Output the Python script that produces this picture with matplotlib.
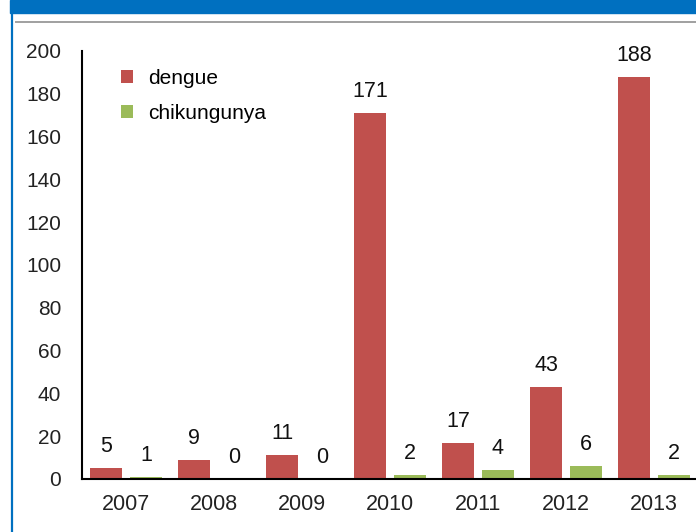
import numpy as np
import matplotlib
matplotlib.use("Agg")
from matplotlib import pyplot as plt
from matplotlib.patches import Rectangle
from matplotlib.lines import Line2D

years = ["2007", "2008", "2009", "2010", "2011", "2012", "2013"]
dengue = [5, 9, 11, 171, 17, 43, 188]
chikungunya = [1, 0, 0, 2, 4, 6, 2]
yticks = [0, 20, 40, 60, 80, 100, 120, 140, 160, 180, 200]

plt.rcParams['font.family'] = ['Liberation Sans', 'DejaVu Sans']

W, H = 696, 532
fig = plt.figure(figsize=(W / 100, H / 100), dpi=100)
ax = fig.add_axes([82 / W, 1 - 479 / H, 616 / W, 428 / H])

x = np.arange(len(years))
bw = 0.364
b1 = ax.bar(x - 0.227, dengue, bw, color='#C0504D', label='dengue')
b2 = ax.bar(x + 0.227, chikungunya, bw, color='#9BBB59', label='chikungunya')
ax.bar_label(b1, padding=8, fontsize=15.5, color='#111111')
ax.bar_label(b2, padding=8, fontsize=15.5, color='#111111')

ax.set_xlim(-0.5, len(years) - 0.5)
ax.set_ylim(0, 200)
ax.set_xticks(x)
ax.set_xticklabels(years)
ax.set_yticks(yticks)
ax.tick_params(axis='both', length=0, colors='#222222')
ax.tick_params(axis='x', pad=11, labelsize=15.5)
ax.tick_params(axis='y', pad=15, labelsize=15)
for s in ['top', 'right']:
    ax.spines[s].set_visible(False)
for s in ['left', 'bottom']:
    ax.spines[s].set_linewidth(1.5)
    ax.spines[s].set_color('black')

ax.legend(loc='upper left', bbox_to_anchor=(120.7 / W, 1 - 69 / H),
          bbox_transform=fig.transFigure, frameon=False, fontsize=15,
          handlelength=0.58, handleheight=0.58, handletextpad=0.72,
          labelspacing=0.78, borderpad=0, borderaxespad=0)

# page frame: blue band, blue left rule, grey rule
fig.patches.append(Rectangle((10 / W, 1 - 13.3 / H), 1, 13.3 / H,
                             transform=fig.transFigure, color='#0070C0', zorder=5))
fig.add_artist(Line2D([11.7 / W, 11.7 / W], [0, 1 - 13 / H], transform=fig.transFigure,
                      color='#0070C0', linewidth=1.6))
fig.add_artist(Line2D([16 / W, 1], [1 - 21.5 / H, 1 - 21.5 / H], transform=fig.transFigure,
                      color='#A0A0A0', linewidth=1.4))

fig.savefig("out.png", dpi=100)
